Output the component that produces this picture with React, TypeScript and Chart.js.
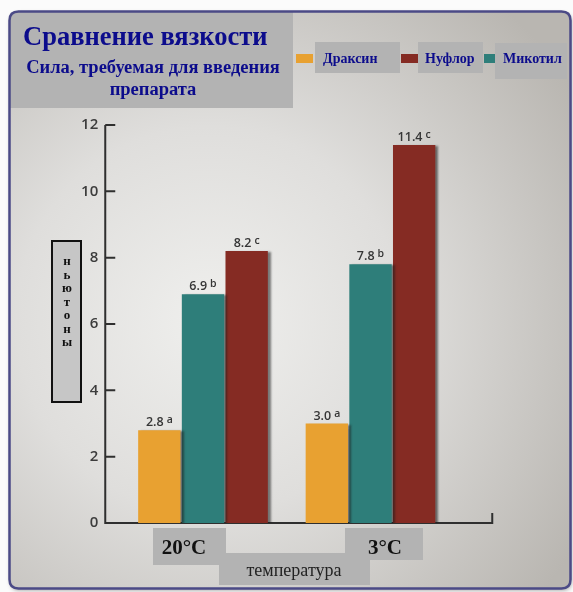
import { useEffect, useRef } from "react";
import { Chart, registerables } from "chart.js";

Chart.register(...registerables);

// ---- data ----
const categories = ["20°C", "3°C"];
const seriesNames = ["Драксин", "Микотил", "Нуфлор"];
const draxinValues = [2.8, 3.0];
const mikotilValues = [6.9, 7.8];
const nuflorValues = [8.2, 11.4];
const draxinLetters = ["a", "a"];
const mikotilLetters = ["b", "b"];
const nuflorLetters = ["c", "c"];
const legendOrder = [0, 2, 1]; // Драксин, Нуфлор, Микотил
const yMin = 0;
const yMax = 12;
const yStep = 2;
const titleText = "Сравнение вязкости";
const subtitleLines = ["Сила, требуемая для введения", "препарата"];
const yAxisTitle = "ньютоны";
const xAxisTitle = "температура";

const seriesColors = ["#e8a131", "#2e7e7a", "#852b23"];
const letters = [draxinLetters, mikotilLetters, nuflorLetters];

const SERIF = '"Liberation Serif", "Times New Roman", serif';
const SANS = '"Open Sans", "DejaVu Sans", sans-serif';
const NAVY = "#0c0c8c";
const BOXGRAY = "#b3b3b3";

function framePath(ctx: CanvasRenderingContext2D) {
  const x = 9.5, y = 11.5, w = 561, h = 577, r = 9;
  ctx.beginPath();
  ctx.moveTo(x + r, y);
  ctx.lineTo(x + w - r, y);
  ctx.quadraticCurveTo(x + w, y, x + w, y + r);
  ctx.lineTo(x + w, y + h - r);
  ctx.quadraticCurveTo(x + w, y + h, x + w - r, y + h);
  ctx.lineTo(x + r, y + h);
  ctx.quadraticCurveTo(x, y + h, x, y + h - r);
  ctx.lineTo(x, y + r);
  ctx.quadraticCurveTo(x, y, x + r, y);
  ctx.closePath();
}

const decor = {
  id: "decor",
  beforeDraw(chart: any) {
    const ctx: CanvasRenderingContext2D = chart.ctx;
    ctx.save();
    ctx.fillStyle = "#fbfbfb";
    ctx.fillRect(0, 0, chart.width, chart.height);

    // frame with shadow
    ctx.save();
    ctx.shadowColor = "rgba(0,0,0,0.35)";
    ctx.shadowBlur = 4;
    ctx.shadowOffsetX = 1;
    ctx.shadowOffsetY = 2;
    framePath(ctx);
    const g = ctx.createRadialGradient(210, 320, 0, 210, 320, 430);
    g.addColorStop(0, "#efefed");
    g.addColorStop(0.45, "#dfdedc");
    g.addColorStop(1, "#b9b6b1");
    ctx.fillStyle = g;
    ctx.fill();
    ctx.restore();

    // clip to frame for inner boxes
    ctx.save();
    framePath(ctx);
    ctx.clip();
    ctx.fillStyle = BOXGRAY;
    ctx.fillRect(9, 11, 284, 97); // title box
    // legend boxes
    ctx.fillRect(315, 42, 85, 31);
    ctx.fillRect(418, 42, 65, 31);
    ctx.fillRect(495, 43, 72, 36);
    // x label boxes
    ctx.fillRect(153, 528, 73, 37);
    ctx.fillRect(345, 528, 78, 32);
    ctx.fillRect(219, 553, 151, 32);
    ctx.restore();

    ctx.lineWidth = 2.5;
    ctx.strokeStyle = "#4b4a86";
    framePath(ctx);
    ctx.stroke();

    // title
    ctx.fillStyle = NAVY;
    ctx.textBaseline = "middle";
    ctx.textAlign = "left";
    ctx.font = `bold 26.5px ${SERIF}`;
    ctx.fillText(titleText, 23, 38);
    ctx.textAlign = "center";
    ctx.font = `bold 18.5px ${SERIF}`;
    ctx.fillText(subtitleLines[0], 153, 68);
    ctx.fillText(subtitleLines[1], 153, 90);

    // legend
    const ds = chart.data.datasets;
    const swatchX = [296, 401, 484];
    const swatchW = [17, 17, 11];
    const textX = [323, 425, 503];
    legendOrder.forEach((di, k) => {
      ctx.fillStyle = ds[di].backgroundColor;
      ctx.fillRect(swatchX[k], 54, swatchW[k], 9);
      ctx.fillStyle = NAVY;
      ctx.textAlign = "left";
      ctx.font = `bold 14px ${SERIF}`;
      ctx.fillText(ds[di].label, textX[k], 59);
    });

    // y axis title box
    ctx.fillStyle = "#c6c6c6";
    ctx.fillRect(52, 241, 29, 161);
    ctx.lineWidth = 2;
    ctx.strokeStyle = "#111";
    ctx.strokeRect(52, 241, 29, 161);
    ctx.fillStyle = "#111";
    ctx.textAlign = "center";
    ctx.font = `bold 13px ${SERIF}`;
    Array.from(yAxisTitle).forEach((ch, i) => {
      ctx.fillText(ch, 67, 262 + i * 13.5);
    });

    // category labels and x title
    ctx.fillStyle = "#111";
    ctx.font = `bold 21px ${SERIF}`;
    ctx.fillText(categories[0], 184, 549);
    ctx.fillText(categories[1], 385, 549);
    ctx.font = `18px ${SERIF}`;
    ctx.fillStyle = "#222";
    ctx.fillText(xAxisTitle, 294, 571);
    ctx.restore();
  },
  beforeDatasetsDraw(chart: any) {
    const ctx: CanvasRenderingContext2D = chart.ctx;
    const ys = chart.scales.y;
    const x0 = chart.chartArea.left - 14;
    const yBottom = ys.getPixelForValue(yMin);
    const yTop = ys.getPixelForValue(yMax);
    const xEnd = chart.chartArea.right + 38;
    ctx.save();
    ctx.strokeStyle = "#2f2f2f";
    ctx.lineWidth = 2;
    ctx.beginPath();
    ctx.moveTo(x0, yTop);
    ctx.lineTo(x0, yBottom);
    ctx.lineTo(xEnd, yBottom);
    ctx.lineTo(xEnd, yBottom - 10);
    ys.ticks.forEach((t: any) => {
      const y = ys.getPixelForValue(t.value);
      ctx.moveTo(x0, y);
      ctx.lineTo(x0 + 10, y);
    });
    ctx.stroke();
    ctx.restore();
    ctx.save();
    ctx.shadowColor = "rgba(30,30,30,0.55)";
    ctx.shadowBlur = 2;
    ctx.shadowOffsetX = 3;
    ctx.shadowOffsetY = 1;
  },
  afterDatasetsDraw(chart: any) {
    const ctx: CanvasRenderingContext2D = chart.ctx;
    ctx.restore();
    ctx.save();
    ctx.fillStyle = "#363636";
    ctx.textBaseline = "alphabetic";
    ctx.textAlign = "left";
    chart.data.datasets.forEach((d: any, di: number) => {
      const meta = chart.getDatasetMeta(di);
      meta.data.forEach((el: any, i: number) => {
        const val = Number(d.data[i]).toFixed(1);
        const letter = letters[di][i];
        ctx.font = `600 12.5px ${SANS}`;
        const w1 = ctx.measureText(val).width;
        ctx.font = `600 10.5px ${SANS}`;
        const w2 = ctx.measureText(letter).width;
        const gap = 3;
        const start = el.x - (w1 + gap + w2) / 2;
        const base = el.y - 4;
        ctx.font = `600 12.5px ${SANS}`;
        ctx.fillText(val, start, base);
        ctx.font = `600 10.5px ${SANS}`;
        ctx.fillText(letter, start + w1 + gap, base - 3);
      });
    });
    ctx.restore();
  },
};

export default function App() {
  const ref = useRef<HTMLCanvasElement>(null);
  useEffect(() => {
    if (!ref.current) return;
    const chart = new Chart(ref.current, {
      type: "bar",
      data: {
        labels: categories,
        datasets: [
          { label: seriesNames[0], data: draxinValues, backgroundColor: seriesColors[0] },
          { label: seriesNames[1], data: mikotilValues, backgroundColor: seriesColors[1] },
          { label: seriesNames[2], data: nuflorValues, backgroundColor: seriesColors[2] },
        ],
      },
      options: {
        animation: false,
        responsive: false,
        layout: { padding: { left: 69.25, right: 118.75, top: 125, bottom: 69 } },
        datasets: { bar: { categoryPercentage: 0.782, barPercentage: 0.97 } },
        plugins: {
          legend: { display: false },
          tooltip: { enabled: false },
          title: { display: false },
        },
        scales: {
          x: { display: false, offset: true },
          y: {
            min: yMin,
            max: yMax,
            ticks: {
              stepSize: yStep,
              padding: 21,
              color: "#3c3c3c",
              font: { family: SANS, size: 15, weight: "600" },
            },
            grid: { display: false, drawTicks: false },
            border: { display: false },
            afterFit: (s: any) => {
              s.width = 50;
            },
          },
        },
      } as any,
      plugins: [decor],
    });
    return () => chart.destroy();
  }, []);
  return (
    <div style={{ position: "fixed", left: 0, top: 0, width: 573, height: 592 }}>
      <canvas ref={ref} width={573} height={592} style={{ display: "block" }} />
    </div>
  );
}
